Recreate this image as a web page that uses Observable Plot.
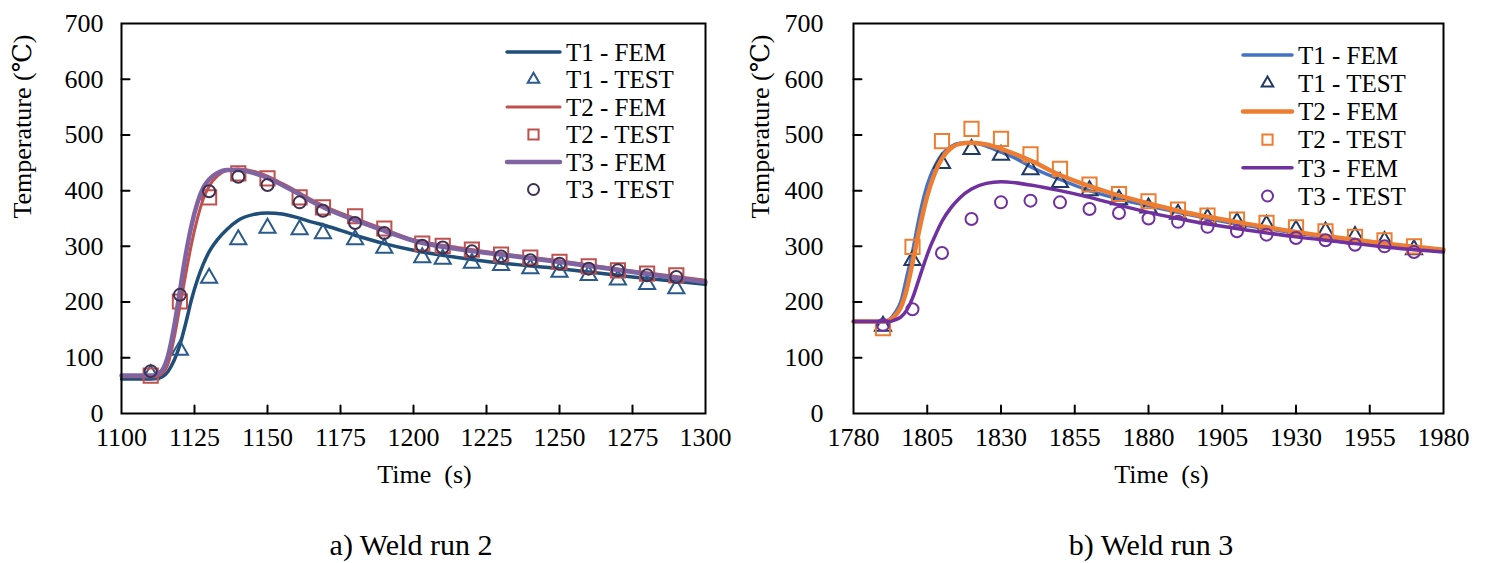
<!DOCTYPE html>
<html>
<head>
<meta charset="utf-8">
<script src="https://cdn.jsdelivr.net/npm/d3@7"></script>
<script src="https://cdn.jsdelivr.net/npm/@observablehq/plot@0.6"></script>
<style>
  html, body { margin: 0; padding: 0; background: #fff; }
  #wrap { position: relative; width: 1488px; height: 563px; overflow: hidden; font-family: "Times New Roman", "Liberation Serif", Tinos, "DejaVu Serif", serif; }
  .panel { position: absolute; top: 0; }
  .cap { position: absolute; top: 527px; font-size: 30px; line-height: 36px; transform: translateX(-50%); white-space: nowrap; color: #000; }
  #legend { position: absolute; left: 0; top: 0; pointer-events: none; }
</style>
</head>
<body>
<div id="wrap">
  <div class="panel" id="left" style="left:0px"></div>
  <div class="panel" id="right" style="left:744px"></div>
  <div class="cap" style="left:411px">a) Weld run 2</div>
  <div class="cap" style="left:1151px">b) Weld run 3</div>
  <svg id="legend" width="1488" height="563"></svg>
</div>
<script>
// ---------- DATA ----------
const yTicks = [0, 100, 200, 300, 400, 500, 600, 700];
const run2Ticks = [1100, 1125, 1150, 1175, 1200, 1225, 1250, 1275, 1300];
const run3Ticks = [1780, 1805, 1830, 1855, 1880, 1905, 1930, 1955, 1980];
const seriesNames = ["T1 - FEM", "T1 - TEST", "T2 - FEM", "T2 - TEST", "T3 - FEM", "T3 - TEST"];

// Weld run 2 - FEM
const run2FemTime = [1100,1110,1112,1114,1116,1118,1120,1122,1124,1126,1128,1130,1133,1136,1140,1145,1150,1155,1160,1165,1170,1180,1190,1200,1215,1230,1250,1275,1300];
const run2T1Fem = [62,62,63,66,76,95,123,162,205,240,268,290,313,330,347,357,360,358,352,344,337,320,305,293,280,270,260,245,232];
const run2T2Fem = [66,66,67,72,90,135,192,250,305,350,385,408,427,436,439,435,426,413,399,384,371,350,331,312,298,287,274,256,239];
const run2T3Fem = [68,68,70,78,105,155,220,285,338,378,405,420,432,437,437,432,423,410,396,381,368,347,328,310,295,285,272,254,236];
// Weld run 2 - TEST
const run2TestTime = [1110,1120,1130,1140,1150,1161,1169,1180,1190,1203,1210,1220,1230,1240,1250,1260,1270,1280,1290];
const run2T1Test = [70,114,243,312,333,330,323,312,297,280,277,270,266,260,254,248,240,232,224];
const run2T2Test = [68,201,388,431,422,388,370,354,332,305,301,294,285,280,272,264,257,251,248];
const run2T3Test = [76,213,399,425,410,379,364,342,324,301,298,291,282,275,269,260,257,248,245];

// Weld run 3 - FEM
const run3FemTime = [1780,1790,1792,1794,1796,1798,1800,1802,1804,1806,1808,1810,1813,1816,1820,1825,1830,1835,1840,1850,1860,1870,1880,1890,1900,1915,1930,1945,1960,1980];
const run3T1Fem = [165,165,168,180,200,244,290,345,392,425,448,465,479,485,486,480,469,458,443,420,400,385,373,361,350,336,324,313,303,292];
const run3T2Fem = [165,165,167,175,190,222,270,322,370,408,437,458,476,484,486,483,475,465,454,428,408,391,377,364,353,339,326,315,305,294];
const run3T3Fem = [165,165,165,168,173,185,207,238,270,299,323,345,369,387,403,413,416,414,410,400,388,374,361,350,340,328,317,308,299,290];
// Weld run 3 - TEST
const run3TestTime = [1790,1800,1810,1820,1830,1840,1850,1860,1870,1880,1890,1900,1910,1920,1930,1940,1950,1960,1970];
const run3T1Test = [157,275,449,474,464,438,415,400,384,369,358,350,343,338,329,326,318,309,294];
const run3T2Test = [153,299,489,511,493,465,439,411,394,381,366,355,348,342,334,327,317,311,300];
const run3T3Test = [159,187,288,349,379,382,379,367,360,350,344,335,327,321,315,311,303,300,290];

// ---------- STYLES ----------
const run2Style = {
  colors: ["#1F4E79", "#2A5A8C", "#C0504D", "#C0504D", "#8064A2", "#3F3151"],
  widths: [3.5, 0, 3, 0, 4.5, 0]
};
const run3Style = {
  colors: ["#4472C4", "#1F3864", "#ED7D31", "#ED7D31", "#7030A0", "#7030A0"],
  widths: [3.5, 0, 4.5, 0, 3.5, 0]
};
const symbols = ["triangle", "square", "circle"];
const symbolR = {triangle: 6, square: 8, circle: 6};
const FONT = "Times New Roman, Liberation Serif, Tinos, DejaVu Serif, serif";

const tickShape = {draw(ctx, l) { ctx.moveTo(0, 0); ctx.lineTo(0, -l); }};

function rows(times, vals) { return times.map((t, i) => ({t, v: vals[i]})); }

function makeChart(opts) {
  const {xTicks, femTime, fems, testTime, tests, style, marginLeft, marginRight, yLabelDx, xLabelDx, yPad} = opts;
  const xDomain = [xTicks[0], xTicks[xTicks.length - 1]];
  const marks = [];
  marks.push(Plot.axisX({ticks: xTicks, tickSize: 0, tickPadding: 14, tickFormat: d => String(d), label: null, fontSize: 26, fontFamily: FONT}));
  marks.push(Plot.axisY({ticks: yTicks, tickSize: 0, tickPadding: yPad, tickFormat: d => String(d), label: null, fontSize: 26, fontFamily: FONT}));
  // inward ticks
  marks.push(Plot.vector(xTicks.slice(1, -1), {x: d => d, y: yTicks[0], length: 8, shape: tickShape, anchor: "start", stroke: "black", strokeWidth: 2}));
  marks.push(Plot.vector(yTicks.slice(1, -1), {x: xDomain[0], y: d => d, length: 8, rotate: 90, shape: tickShape, anchor: "start", stroke: "black", strokeWidth: 2}));
  for (let k = 0; k < 3; k++) {
    marks.push(Plot.line(rows(femTime, fems[k]), {x: "t", y: "v", stroke: style.colors[2 * k], strokeWidth: style.widths[2 * k], curve: "monotone-x"}));
    marks.push(Plot.dot(rows(testTime, tests[k]), {x: "t", y: "v", symbol: symbols[k], r: symbolR[symbols[k]], stroke: style.colors[2 * k + 1], strokeWidth: 2, fill: "none"}));
  }
  marks.push(Plot.frame({stroke: "black", strokeWidth: 2}));
  marks.push(Plot.text(["Time\u00a0\u00a0(s)"], {frameAnchor: "bottom", dx: xLabelDx, dy: 69, fontSize: 26, fontFamily: FONT, fill: "black"}));
  marks.push(Plot.text(["Temperature (\u2103)"], {frameAnchor: "left", dx: yLabelDx, rotate: -90, fontSize: 26, fontFamily: FONT, fill: "black"}));
  return Plot.plot({
    width: 744, height: 500,
    marginLeft, marginRight, marginTop: 23, marginBottom: 87,
    x: {domain: xDomain},
    y: {domain: [yTicks[0], yTicks[yTicks.length - 1]]},
    style: {fontFamily: FONT, fontSize: "26px", color: "black", background: "transparent", overflow: "visible"},
    marks
  });
}

document.getElementById("left").appendChild(makeChart({
  xTicks: run2Ticks, femTime: run2FemTime, fems: [run2T1Fem, run2T2Fem, run2T3Fem],
  testTime: run2TestTime, tests: [run2T1Test, run2T2Test, run2T3Test],
  style: run2Style, marginLeft: 121, marginRight: 39, yLabelDx: -99, xLabelDx: 11, yPad: 18
}));
document.getElementById("right").appendChild(makeChart({
  xTicks: run3Ticks, femTime: run3FemTime, fems: [run3T1Fem, run3T2Fem, run3T3Fem],
  testTime: run3TestTime, tests: [run3T1Test, run3T2Test, run3T3Test],
  style: run3Style, marginLeft: 109, marginRight: 45, yLabelDx: -93, xLabelDx: 13, yPad: 30
}));

// ---------- LEGENDS ----------
const legendSvg = d3.select("#legend");
function drawLegend(x0, lineLen, y0, dy, style) {
  const g = legendSvg.append("g").attr("font-family", FONT).attr("font-size", 25);
  seriesNames.forEach((name, i) => {
    const y = y0 + i * dy;
    if (i % 2 === 0) {
      g.append("line").attr("x1", x0).attr("x2", x0 + lineLen).attr("y1", y).attr("y2", y)
        .attr("stroke", style.colors[i]).attr("stroke-width", style.widths[i]).attr("stroke-linecap", "round");
    } else {
      const sym = symbols[(i - 1) / 2];
      const path = {triangle: d3.symbolTriangle2, square: d3.symbolSquare2, circle: d3.symbolCircle}[sym];
      const r = sym === "circle" ? 5.5 : sym === "square" ? 6.5 : 5.5;
      g.append("path").attr("d", d3.symbol(path, Math.PI * r * r)())
        .attr("transform", `translate(${x0 + lineLen / 2},${y})`)
        .attr("fill", "none").attr("stroke", style.colors[i]).attr("stroke-width", 2);
    }
    g.append("text").attr("x", x0 + lineLen + 6).attr("y", y).attr("dy", "0.35em").attr("fill", "black").text(name);
  });
}
drawLegend(507, 53, 52, 27.5, run2Style);
drawLegend(1243, 49, 55, 28.2, run3Style);
</script>
</body>
</html>
